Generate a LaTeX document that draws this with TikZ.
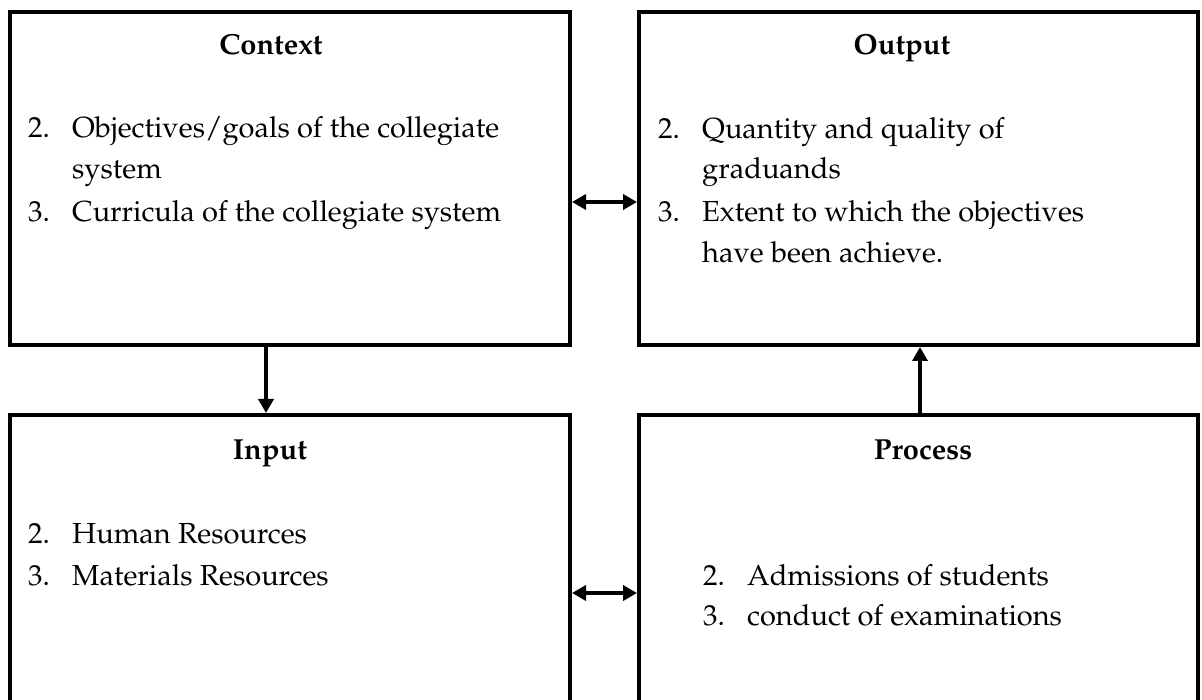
\documentclass[tikz,border=0pt]{standalone}
\usepackage[T1]{fontenc}
\usepackage{mathpazo}
\usetikzlibrary{arrows.meta}
\begin{document}
\begin{tikzpicture}[x=1pt,y=-1pt,
  panel/.style={draw=black,line width=4pt,rectangle,anchor=north west,inner sep=0pt,outer sep=0pt},
  ttl/.style={anchor=base,font=\fontsize{29}{35}\selectfont\bfseries,inner sep=0pt},
  txt/.style={anchor=base west,font=\fontsize{29}{35}\selectfont,inner sep=0pt},
  link/.style={line width=3.5pt,{Triangle[length=14pt,width=15pt]}-{Triangle[length=14pt,width=15pt]},shorten <=2pt,shorten >=2pt},
  flow/.style={line width=3.5pt,-{Triangle[length=14pt,width=15pt]},shorten <=2pt,shorten >=2pt}]
\clip (0,0) rectangle (1202,700);

% the four panels (the lower two run past the bottom edge)
\node[panel,minimum width=560pt,minimum height=333pt] (context) at (10,12) {};
\node[panel,minimum width=559pt,minimum height=333pt] (output) at (639,12) {};
\node[panel,minimum width=560pt,minimum height=300pt] (input) at (10,415) {};
\node[panel,minimum width=559pt,minimum height=300pt] (process) at (639,415) {};

% Context
\node[ttl] (ctxT) at (271,55) {Context};
\node[txt] (ctxN2) at (28,138) {2.};
\node[txt] (ctxA) at (72,138) {Objectives/goals of the collegiate};
\node[txt] (ctxB) at (72,179) {system};
\node[txt] (ctxN3) at (28,222) {3.};
\node[txt] (ctxC) at (72,222) {Curricula of the collegiate system};

% Output
\node[ttl] (outT) at (902,55) {Output};
\node[txt] (outN2) at (658,139) {2.};
\node[txt] (outA) at (702,139) {Quantity and quality of};
\node[txt] (outB) at (702,179) {graduands};
\node[txt] (outN3) at (658,222) {3.};
\node[txt] (outC) at (702,222) {Extent to which the objectives};
\node[txt] (outD) at (702,263) {have been achieve.};

% Input
\node[ttl] (inT) at (270,459) {Input};
\node[txt] (inN2) at (28,543) {2.};
\node[txt] (inA) at (72,543) {Human Resources};
\node[txt] (inN3) at (28,585) {3.};
\node[txt] (inB) at (72,585) {Materials Resources};

% Process
\node[ttl] (prT) at (923,459) {Process};
\node[txt] (prN2) at (703,585) {2.};
\node[txt] (prA) at (747,585) {Admissions of students};
\node[txt] (prN3) at (703,625) {3.};
\node[txt] (prB) at (747,625) {conduct of examinations};

% connectors
\draw[link] ([yshift=-23.5pt]context.east) -- ([yshift=-23.5pt]output.west);
\draw[link] ([yshift=-28pt]input.east) -- ([yshift=-28pt]process.west);
\draw[flow] ([xshift=-24pt]context.south) -- ([xshift=-24pt]input.north);
\draw[flow] ([xshift=1.5pt]process.north) -- ([xshift=1.5pt]output.south);
\end{tikzpicture}
\end{document}
